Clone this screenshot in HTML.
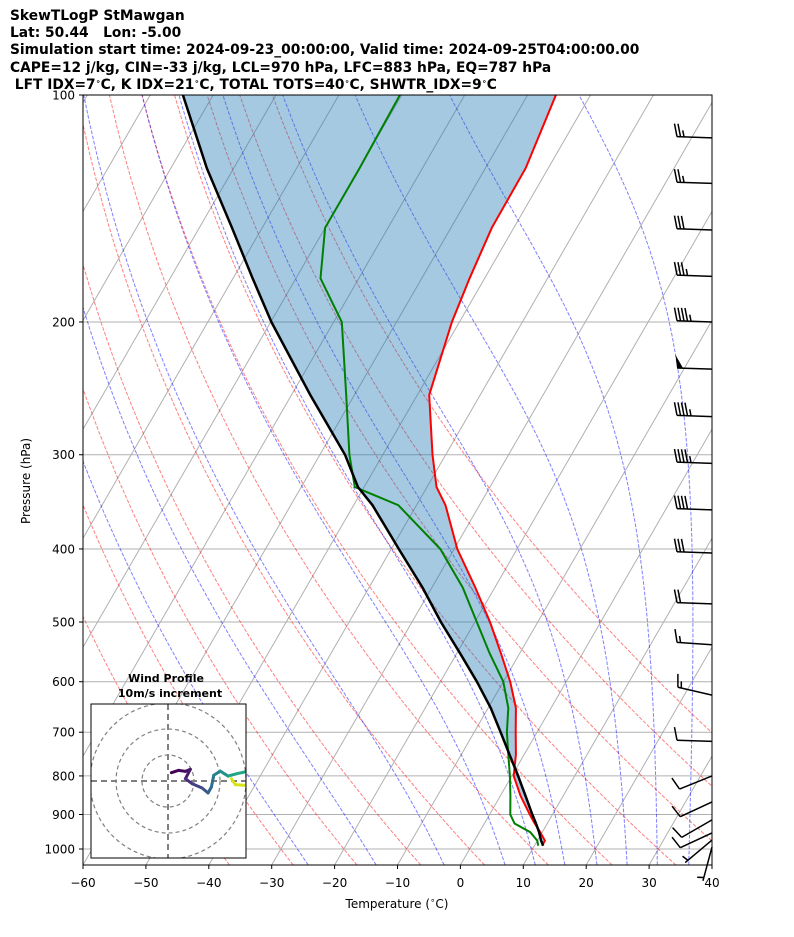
<!DOCTYPE html>
<html><head><meta charset="utf-8">
<style>
body{margin:0;background:#fff;width:794px;height:937px;overflow:hidden;font-family:"DejaVu Sans","Liberation Sans",sans-serif}
#title{position:absolute;left:10px;top:8px;font-weight:bold;font-size:13.8px;line-height:17.2px;color:#000;white-space:pre}
sup{font-size:8px;vertical-align:5px;line-height:0}
svg{position:absolute;left:0;top:0;font-family:"DejaVu Sans","Liberation Sans",sans-serif}
</style></head><body>
<div id="title">SkewTLogP StMawgan
Lat: 50.44   Lon: -5.00
Simulation start time: 2024-09-23_00:00:00, Valid time: 2024-09-25T04:00:00.00
CAPE=12 j/kg, CIN=-33 j/kg, LCL=970 hPa, LFC=883 hPa, EQ=787 hPa
 LFT IDX=7<sup>∘</sup>C, K IDX=21<sup>∘</sup>C, TOTAL TOTS=40<sup>∘</sup>C, SHWTR_IDX=9<sup>∘</sup>C</div>
<svg id="svg" width="794" height="937" xmlns="http://www.w3.org/2000/svg">
<defs><clipPath id="plotclip"><rect x="83" y="95" width="629" height="770"/></clipPath>
<clipPath id="hodoclip"><rect x="91" y="704" width="155" height="154"/></clipPath></defs>
<g id="bg" clip-path="url(#plotclip)"></g>
<g id="prof" clip-path="url(#plotclip)"></g>
<g id="barbs"></g>
<g id="axes"></g>
<g id="hodo"></g>
</svg>
<script>
// ---- data ----
const presLevels = [100,125,150,175,200,250,300,331,350,400,450,500,550,600,650,700,750,800,850,900,925,950,975,990];
const tempC  = [-55.5,-53.6,-53.5,-52.4,-51.2,-48.1,-42.1,-38.5,-35.4,-29.5,-23.1,-17.6,-13.0,-8.9,-5.6,-3.4,-1.3,0.3,3.2,6.4,8.0,9.7,11.2,11.2];
const dewC   = [-80.3,-80.0,-80.0,-76.1,-68.7,-61.3,-55.3,-51.5,-42.9,-32.2,-25.1,-19.7,-14.8,-10.0,-6.8,-4.8,-2.5,-0.3,1.6,3.3,4.8,8.1,10.0,10.6];
const parcelC= [-114.8,-104.3,-94.8,-86.9,-79.9,-67.0,-56.0,-51.0,-47.0,-38.8,-31.5,-25.4,-19.5,-14.2,-9.6,-5.8,-2.3,1.0,4.0,6.8,8.2,9.5,10.6,11.4];
const barbPres = [114,131,151,174,200,231,267,308,355,405,473,536,625,720,800,866,915,952,973,994];
const barbSpd  = [25,25,30,35,45,50,45,45,40,30,20,15,15,10,10,10,10,10,5,5];
const barbDir  = [272,272,272,272,272,272,272,272,272,272,272,274,283,272,248,245,240,245,230,195];
const hodoU = [1.3,4.1,6.7,8.6,6.7,9.2,13.1,15.4,16.7,17.6,20.1,23.1,26.5,29.7];
const hodoV = [3.2,4.1,3.7,4.5,0.9,-1.0,-2.7,-4.6,-2.3,2.2,3.8,1.9,2.8,3.5];
const hodoU2 = [24.4,25.9,29.7];
const hodoV2 = [0.9,-1.4,-1.7];
const xTicks = [-60,-50,-40,-30,-20,-10,0,10,20,30,40];
const pTicks = [100,200,300,400,500,600,700,800,900,1000];
const dryThetaC = [-40,-30,-20,-10,0,10,20,30,40,50,60];
const moistBaseC = [-24.2,-13.4,-2.6,7.1,11.9,16.6,21.7,26.5,31.3,36.3];

const NS='http://www.w3.org/2000/svg';
function yP(p){return 849-754*Math.log10(1000/p);}
function xT(T,p){return 83+(T+60)*6.29+(865-yP(p))*0.5774;}
function mk(tag,attrs,parent){const e=document.createElementNS(NS,tag);for(const k in attrs)e.setAttribute(k,attrs[k]);parent.appendChild(e);return e;}
const bg=document.getElementById('bg'),prof=document.getElementById('prof'),axes=document.getElementById('axes'),barbsG=document.getElementById('barbs'),hodo=document.getElementById('hodo');

for(const p of pTicks){const l=mk('line',{x1:83,x2:712,y1:yP(p),y2:yP(p),stroke:'#b0b0b0','stroke-width':1},bg);

}
for(let T=-140;T<=40;T+=10){const l=mk('line',{x1:xT(T,1050),y1:yP(1050),x2:xT(T,100),y2:yP(100),stroke:'#b0b0b0','stroke-width':1},bg);

}
for(const thc of dryThetaC){const th=thc+273.15;let d='';for(let p=1050;p>=100;p-=10){const T=th*Math.pow(p/1000,0.2857)-273.15;d+=(d?'L':'M')+xT(T,p).toFixed(1)+','+yP(p).toFixed(1);}
const l=mk('path',{d:d,fill:'none',stroke:'#ff0000','stroke-opacity':0.5,'stroke-width':1,'stroke-dasharray':'3.7,1.6'},bg);

}
function dTdp(T,p){const es=6.112*Math.exp(17.67*(T-273.15)/(T-29.65));const rs=0.622*es/(p-es);const Rd=287.04,Cp=1005.7,Lv=2.501e6;
return (Rd*T+Lv*rs)/(Cp+Lv*Lv*rs*0.622/(Rd*T*T))/p;}
for(const t0 of moistBaseC){let T=t0+273.15;let d='';for(let p=1050;p>=100;p-=2){d+=(d?'L':'M')+xT(T-273.15,p).toFixed(1)+','+yP(p).toFixed(1);T-=dTdp(T,p)*2;}
const l=mk('path',{d:d,fill:'none',stroke:'#0000ff','stroke-opacity':0.5,'stroke-width':1,'stroke-dasharray':'3.7,1.6'},bg);

}
function pathOf(arr){return arr.map((T,i)=>(i?'L':'M')+xT(T,presLevels[i]).toFixed(1)+','+yP(presLevels[i]).toFixed(1)).join('');}
let fd=pathOf(tempC);for(let i=presLevels.length-1;i>=0;i--)fd+='L'+xT(parcelC[i],presLevels[i]).toFixed(1)+','+yP(presLevels[i]).toFixed(1);fd+='Z';
const fill=mk('path',{d:fd,fill:'#1f77b4','fill-opacity':0.4,stroke:'none'},prof);


const tl=mk('path',{d:pathOf(tempC),fill:'none',stroke:'#ff0000','stroke-width':2},prof);


const dl=mk('path',{d:pathOf(dewC),fill:'none',stroke:'#008000','stroke-width':2},prof);


const pl=mk('path',{d:pathOf(parcelC),fill:'none',stroke:'#000','stroke-width':2.5,'stroke-linejoin':'round'},prof);


barbPres.forEach((p,i)=>{const g=mk('g',{},barbsG);


const a=barbDir[i]*Math.PI/180;const sx=Math.sin(a),sy=-Math.cos(a);const x0=712,y0=yP(p),L=35;
const ex=x0+sx*L,ey=y0+sy*L;mk('line',{x1:x0,y1:y0,x2:ex,y2:ey,stroke:'#000','stroke-width':1.5},g);
const px=-sy,py=sx;
let spd=barbSpd[i],pos=0;const bl=13;
while(spd>=50){const bx=ex-sx*pos,by=ey-sy*pos;const bx2=ex-sx*(pos+6),by2=ey-sy*(pos+6);
mk('polygon',{points:`${bx},${by} ${bx+px*bl+sx*2},${by+py*bl+sy*2} ${bx2},${by2}`,fill:'#000'},g);pos+=8;spd-=50;}
while(spd>=10){const bx=ex-sx*pos,by=ey-sy*pos;mk('line',{x1:bx,y1:by,x2:bx+px*bl+sx*3,y2:by+py*bl+sy*3,stroke:'#000','stroke-width':1.5},g);pos+=3.5;spd-=10;}
if(spd>=5){if(pos===0)pos=3.5;const bx=ex-sx*pos,by=ey-sy*pos;mk('line',{x1:bx,y1:by,x2:bx+px*bl*0.5+sx*1.5,y2:by+py*bl*0.5+sy*1.5,stroke:'#000','stroke-width':1.5},g);}
});
const fr=mk('rect',{x:83,y:95,width:629,height:770,fill:'none',stroke:'#000','stroke-width':1},axes);


xTicks.forEach(T=>{const x=83+(T+60)*6.29;mk('line',{x1:x,x2:x,y1:865,y2:869,stroke:'#000'},axes);
const t=mk('text',{x:x,y:887,'font-size':12,'text-anchor':'middle',fill:'#000'},axes);t.textContent=(T<0?'\u2212'+(-T):T);

});
pTicks.forEach(p=>{const y=yP(p);mk('line',{x1:79,x2:83,y1:y,y2:y,stroke:'#000'},axes);
const t=mk('text',{x:75,y:y+4.5,'font-size':12,'text-anchor':'end',fill:'#000'},axes);t.textContent=p;

});
const xt=mk('text',{x:397,y:908,'font-size':12,'text-anchor':'middle'},axes);xt.innerHTML='Temperature (<tspan font-size="8.5" dy="-5">∘</tspan><tspan dy="5">C)</tspan>';


const yt=mk('text',{x:30,y:481,'font-size':12,'text-anchor':'middle',transform:'rotate(-90 30 481)'},axes);yt.textContent='Pressure (hPa)';


const hb=mk('rect',{x:91,y:704,width:155,height:154,fill:'#fff',stroke:'none'},hodo);


const cx=168,cy=781,k=2.6;
const hg=mk('g',{'clip-path':'url(#hodoclip)'},hodo);
[10,20,30].forEach(r=>{const c=mk('circle',{cx:cx,cy:cy,r:r*k,fill:'none',stroke:'#808080','stroke-width':1.2,'stroke-dasharray':'4,3'},hg);

});
mk('line',{x1:91,x2:246,y1:cy,y2:cy,stroke:'#808080','stroke-width':2,'stroke-dasharray':'6,4'},hg);
mk('line',{x1:cx,x2:cx,y1:704,y2:858,stroke:'#808080','stroke-width':2,'stroke-dasharray':'6,4'},hg);
const cols=['#440154','#46085c','#471063','#481a6c','#472d7b','#433e85','#3b528b','#355f8d','#2c728e','#26828e','#21918c','#1fa088','#22a884','#28ae80'];
for(let i=0;i<hodoU.length-1;i++){const s=mk('line',{x1:cx+hodoU[i]*k,y1:cy-hodoV[i]*k,x2:cx+hodoU[i+1]*k,y2:cy-hodoV[i+1]*k,stroke:cols[i],'stroke-width':3,'stroke-linecap':'round'},hg);

}
for(let i=0;i<hodoU2.length-1;i++){const s=mk('line',{x1:cx+hodoU2[i]*k,y1:cy-hodoV2[i]*k,x2:cx+hodoU2[i+1]*k,y2:cy-hodoV2[i+1]*k,stroke:'#d8e219','stroke-width':3,'stroke-linecap':'round'},hg);

}
const hf=mk('rect',{x:91,y:704,width:155,height:154,fill:'none',stroke:'#000','stroke-width':1},hodo);


const h1=mk('text',{x:166,y:682,'font-size':11,'font-weight':'bold','text-anchor':'middle'},hodo);h1.textContent='Wind Profile';


const h2=mk('text',{x:170,y:697,'font-size':11,'font-weight':'bold','text-anchor':'middle'},hodo);h2.textContent='10m/s increment';


</script>
</body></html>
